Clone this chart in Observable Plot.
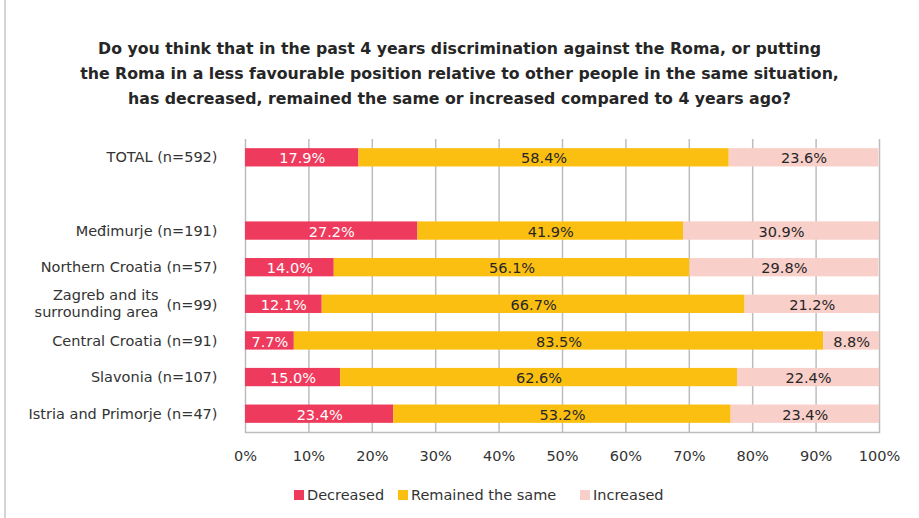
<!DOCTYPE html>
<html>
<head>
<meta charset="utf-8">
<script src="https://cdn.jsdelivr.net/npm/d3@7"></script>
<script src="https://cdn.jsdelivr.net/npm/@observablehq/plot@0.6"></script>
<style>
  html, body { margin: 0; padding: 0; background: #fff; }
  #wrap { position: relative; width: 919px; height: 518px; overflow: hidden; font-family: "DejaVu Sans", sans-serif; color: #333; }
  #frame { position: absolute; left: 4px; top: -2px; width: 930px; height: 530px; border-left: 2px solid #d4d4d4; box-sizing: border-box; }
  #title { position: absolute; left: 0; top: 36px; width: 919px; text-align: center; font-family: "DejaVu Sans", sans-serif; font-weight: bold; font-size: 15.75px; line-height: 25px; color: #262626; }
  #chart { position: absolute; left: 0; top: 120px; }
  #legend { position: absolute; top: 485px; left: 0; width: 919px; height: 20px; font-size: 14.5px; color: #333; }
  #legend .item { position: absolute; top: 0; display: flex; align-items: center; height: 20px; }
  #legend .sw { width: 10px; height: 10px; margin-right: 3px; }
</style>
</head>
<body>
<div id="wrap">
  <div id="frame"></div>
  <div id="title"></div>
  <div id="chart"></div>
  <div id="legend"></div>
</div>
<script>
const titleLines = [
  "Do you think that in the past 4 years discrimination against the Roma, or putting",
  "the Roma in a less favourable position relative to other people in the same situation,",
  "has decreased, remained the same or increased compared to 4 years ago?"
];
const categories = ["TOTAL (n=592)", "spacer", "Međimurje (n=191)", "Northern Croatia (n=57)", "Zagreb and its surrounding area (n=99)", "Central Croatia (n=91)", "Slavonia (n=107)", "Istria and Primorje (n=47)"];
const responses = ["Decreased", "Remained the same", "Increased"];
const colors = ["#EE3A5C", "#FBBF12", "#F9CFC9"];
const decreased = [17.9, null, 27.2, 14.0, 12.1, 7.7, 15.0, 23.4];
const remained  = [58.4, null, 41.9, 56.1, 66.7, 83.5, 62.6, 53.2];
const increased = [23.6, null, 30.9, 29.8, 21.2, 8.8, 22.4, 23.4];
const xTicks = [0, 10, 20, 30, 40, 50, 60, 70, 80, 90, 100];
// Wrapped label as shown in the reference
const wrappedName = "Zagreb and its\nsurrounding area";
const wrappedN = "(n=99)";
const wrappedKey = "Zagreb and its surrounding area (n=99)";

document.getElementById("title").innerHTML = titleLines.map(l => `<div>${l}</div>`).join("");

const data = [];
categories.forEach((c, i) => {
  if (c === "spacer") return;
  [decreased, remained, increased].forEach((arr, j) => {
    data.push({category: c, response: responses[j], value: arr[i]});
  });
});

const labelRows = categories.filter(c => c !== "spacer" && c !== wrappedKey).map(c => ({category: c}));
const fontFam = "'DejaVu Sans', sans-serif";

const chart = Plot.plot({
  width: 919,
  height: 350,
  marginLeft: 245,
  marginRight: 40,
  marginTop: 19,
  marginBottom: 38,
  style: {fontFamily: fontFam, fontSize: "14.5px", color: "#333", background: "transparent"},
  x: {domain: [0, 100], ticks: xTicks, tickFormat: d => d + "%", tickSize: 0, tickPadding: 18, label: null},
  y: {domain: categories, paddingInner: 0.5, paddingOuter: 0.25, round: false, axis: null},
  color: {domain: responses, range: colors},
  marks: [
    Plot.gridX(xTicks, {stroke: "#bdbdbd", strokeOpacity: 1, strokeWidth: 1.5}),
    Plot.frame({anchor: "bottom", stroke: "#bdbdbd", strokeWidth: 1.5}),
    Plot.barX(data, {x: "value", y: "category", fill: "response", order: responses}),
    Plot.text(data, Plot.stackX({
      x: "value", y: "category", z: "response", order: responses,
      text: d => d.value.toFixed(1) + "%",
      fill: d => d.response === "Decreased" ? "#ffffff" : "#262626",
      fontSize: 14.5, dy: 1
    })),
    Plot.text(labelRows, {y: "category", text: "category", frameAnchor: "left", textAnchor: "end", dx: -28, fontSize: 14.5, fill: "#333"}),
    Plot.text([{category: wrappedKey}], {y: "category", text: () => wrappedName, frameAnchor: "left", textAnchor: "end", dx: -87, dy: -1, fontSize: 14.5, fill: "#333", lineHeight: 1.12}),
    Plot.text([{category: wrappedKey}], {y: "category", text: () => wrappedN, frameAnchor: "left", textAnchor: "end", dx: -28, dy: 1, fontSize: 14.5, fill: "#333"})
  ]
});
document.getElementById("chart").appendChild(chart);

const legendLeft = [294, 398, 580];
const legend = document.getElementById("legend");
responses.forEach((r, i) => {
  const it = document.createElement("div");
  it.className = "item";
  it.style.left = legendLeft[i] + "px";
  it.innerHTML = `<span class="sw" style="background:${colors[i]}"></span><span>${r}</span>`;
  legend.appendChild(it);
});
</script>
</body>
</html>
